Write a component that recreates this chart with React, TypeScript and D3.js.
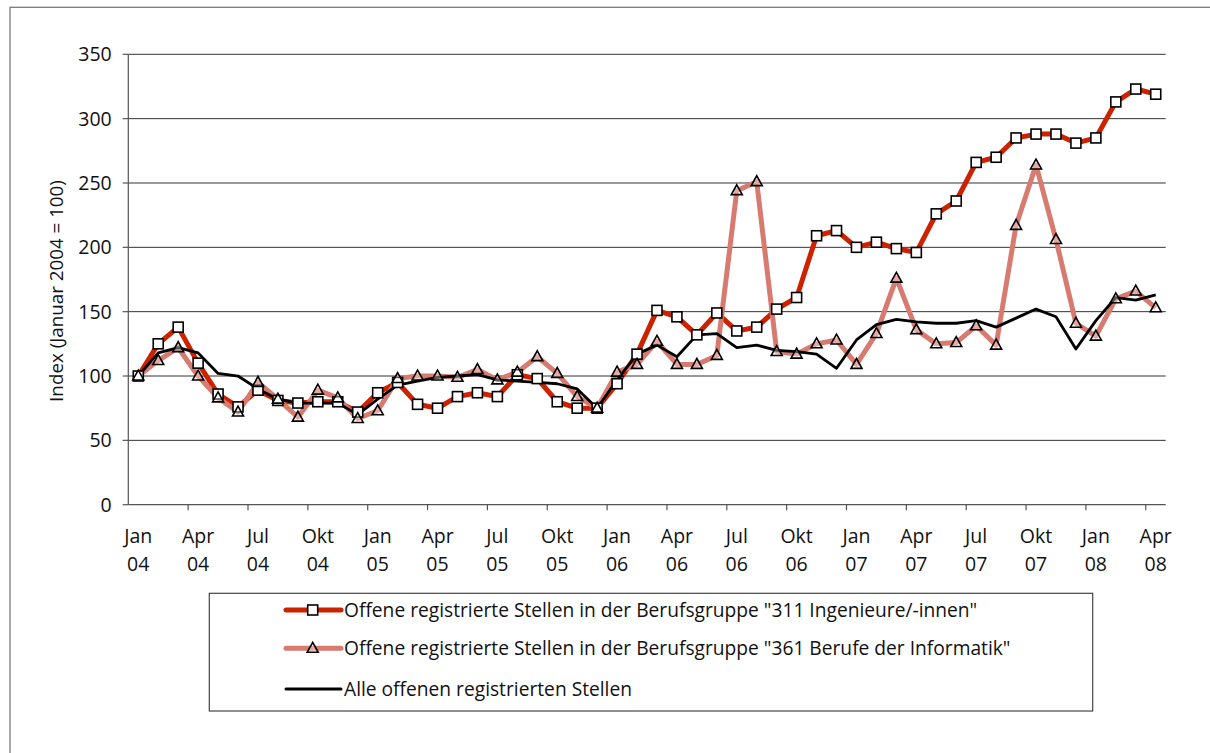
import React from "react";
import * as d3 from "d3";

const ingenieure = [100,125,138,110,86,76,89,81,79,80,80,72,87,95,78,75,84,87,84,101,98,80,75,75,94,117,151,146,132,149,135,138,152,161,209,213,200,204,199,196,226,236,266,270,285,288,288,281,285,313,323,319];
const informatik = [100,112,122,100,83,72,95,82,68,89,83,67,73,98,100,100,99,105,97,103,115,102,84,75,103,109,127,109,109,116,244,251,119,117,125,128,109,133,176,136,125,126,139,124,217,264,206,141,131,160,166,153];
const alle = [100,118,122,118,102,100,90,82,79,79,79,70,82,93,96,99,100,101,97,96,95,94,90,75,97,117,124,115,132,133,122,124,120,119,117,106,128,140,144,142,141,141,143,138,145,152,146,121,143,161,159,163];

const tickMonths = ["Jan","Apr","Jul","Okt","Jan","Apr","Jul","Okt","Jan","Apr","Jul","Okt","Jan","Apr","Jul","Okt","Jan","Apr"];
const tickYears = ["04","04","04","04","05","05","05","05","06","06","06","06","07","07","07","07","08","08"];
const yTicks = [0,50,100,150,200,250,300,350];

const legendLabels = [
  'Offene registrierte Stellen in der Berufsgruppe "311 Ingenieure/-innen"',
  'Offene registrierte Stellen in der Berufsgruppe "361 Berufe der Informatik"',
  "Alle offenen registrierten Stellen",
];

const RED = "#CC2200";
const PINK = "#D77A70";
const FONT = "'Open Sans', 'Noto Sans', sans-serif";

export default function App() {
  const n = ingenieure.length;
  const x = d3.scaleBand<number>().domain(d3.range(n)).range([128.3, 1165.7]).paddingInner(0).paddingOuter(0);
  const y = d3.scaleLinear().domain([0, 350]).range([504.7, 54.3]);
  const bw = x.bandwidth();
  const cx = (i: number) => (x(i) as number) + bw / 2;
  const line = d3.line<number>().x((_, i) => cx(i)).y((d) => y(d));

  const tri = (px: number, py: number, s = 11) => {
    const h = s * 0.9;
    return `M${px},${py - h * 0.6}L${px + s / 2},${py + h * 0.4}L${px - s / 2},${py + h * 0.4}Z`;
  };

  const x0 = x.range()[0];
  const x1 = x.range()[1];

  return (
    <svg width={1210} height={753} style={{ position: "absolute", left: 0, top: 0, background: "#fff" }} fontFamily={FONT}>
      <rect x={10} y={7.3} width={1210} height={760} fill="none" stroke="#7a7a7a" strokeWidth={1.3} />
      {yTicks.filter((t) => t > 0).map((t) => (
        <line key={"g" + t} x1={x0} x2={x1} y1={y(t)} y2={y(t)} stroke="#333" strokeWidth={1} />
      ))}
      <line x1={x0} x2={x0} y1={y(350)} y2={y(0)} stroke="#555" strokeWidth={1.2} />
      <line x1={x0} x2={x1} y1={y(0)} y2={y(0)} stroke="#555" strokeWidth={1.2} />
      {yTicks.map((t) => (
        <g key={"yt" + t}>
          <line x1={x0 - 5.6} x2={x0} y1={y(t)} y2={y(t)} stroke="#555" strokeWidth={1.2} />
          <text x={111.7} y={y(t)} dy="0.36em" textAnchor="end" fontSize={19.5} fill="#111">{t}</text>
        </g>
      ))}
      {tickMonths.map((m, k) => {
        const tx = x0 + (k + 1) * 3 * bw;
        const lx = cx(k * 3);
        return (
          <g key={"xt" + k}>
            {k < 17 && <line x1={tx} x2={tx} y1={y(0)} y2={y(0) + 5.5} stroke="#555" strokeWidth={1.2} />}
            <text x={lx} y={543.3} textAnchor="middle" fontSize={19.5} fill="#111">{m}</text>
            <text x={lx} y={571} textAnchor="middle" fontSize={19.5} fill="#111">{tickYears[k]}</text>
          </g>
        );
      })}
      <text transform="translate(63,291) rotate(-90)" textAnchor="middle" fontSize={18.8} fill="#111">Index (Januar 2004 = 100)</text>

      <path d={line(ingenieure) || ""} fill="none" stroke={RED} strokeWidth={5} strokeLinejoin="round" />
      <path d={line(informatik) || ""} fill="none" stroke={PINK} strokeWidth={5} strokeLinejoin="round" />
      <path d={line(alle) || ""} fill="none" stroke="#000" strokeWidth={2.8} strokeLinejoin="round" />
      {ingenieure.map((v, i) => (
        <rect key={"s" + i} x={cx(i) - 5} y={y(v) - 5} width={10} height={10} fill="#fff" stroke="#000" strokeWidth={1.6} />
      ))}
      {informatik.map((v, i) => (
        <path key={"t" + i} d={tri(cx(i), y(v))} fill="#fff" fillOpacity={0.35} stroke="#000" strokeWidth={1.6} />
      ))}

      <rect x={209.3} y={593.3} width={883.4} height={117.7} fill="none" stroke="#444" strokeWidth={1.2} />
      {legendLabels.map((lab, k) => {
        const ly = [610, 648.3, 689][k];
        const col = [RED, PINK, "#000"][k];
        const sw = [5, 5, 3][k];
        return (
          <g key={"lg" + k}>
            <line x1={286} x2={341} y1={ly} y2={ly} stroke={col} strokeWidth={sw} strokeLinecap="round" />
            {k === 0 && <rect x={312.7 - 5} y={ly - 5} width={10} height={10} fill="#fff" stroke="#000" strokeWidth={1.6} />}
            {k === 1 && <path d={tri(312.7, ly)} fill="#fff" fillOpacity={0.35} stroke="#000" strokeWidth={1.6} />}
            <text x={344} y={ly} dy="0.36em" fontSize={19.2} fill="#111">{lab}</text>
          </g>
        );
      })}
    </svg>
  );
}
